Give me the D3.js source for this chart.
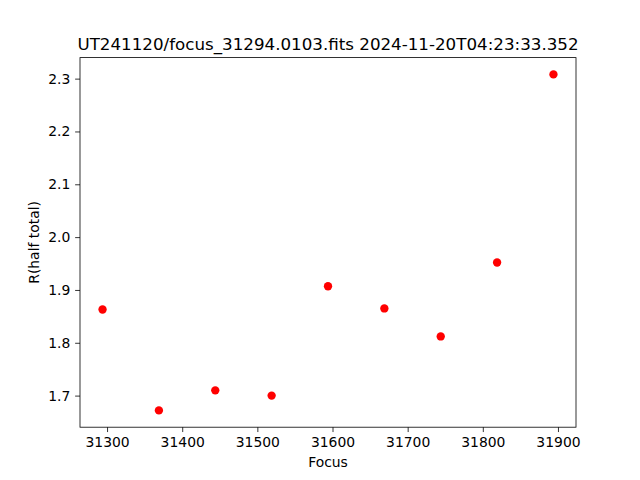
<!DOCTYPE html>
<html><head><meta charset="utf-8">
<script src="https://cdn.jsdelivr.net/npm/d3@7"></script>
<style>body{margin:0;background:#fff}svg{display:block}text{font-family:"DejaVu Sans",sans-serif;fill:#000}</style>
</head><body>
<script>
const focusValues = [31294, 31369, 31444, 31519, 31594, 31669, 31744, 31819, 31894];
const rHalfTotal = [1.863, 1.672, 1.710, 1.700, 1.907, 1.865, 1.812, 1.952, 2.308];
const xTicks = [31300, 31400, 31500, 31600, 31700, 31800, 31900];
const yTicks = [1.7, 1.8, 1.9, 2.0, 2.1, 2.2, 2.3];
const titleText = "UT241120/focus_31294.0103.fits 2024-11-20T04:23:33.352";
const xLabel = "Focus";
const yLabel = "R(half total)";

const W = 640, H = 480;
const L = 80, R = 576, T = 57.6, B = 427.2;
const svg = d3.select("body").append("svg").attr("width", W).attr("height", H);

function pad(ext){const d=(ext[1]-ext[0])*0.05;return [ext[0]-d, ext[1]+d];}
const x = d3.scaleLinear().domain(pad(d3.extent(focusValues))).range([L, R]);
const y = d3.scaleLinear().domain(pad(d3.extent(rHalfTotal))).range([B, T]);

const xAxis = d3.axisBottom(x).tickValues(xTicks).tickFormat(d3.format("d")).tickSize(4.86).tickPadding(4.86);
const yAxis = d3.axisLeft(y).tickValues(yTicks).tickFormat(d3.format(".1f")).tickSize(4.86).tickPadding(4.86);

const gx = svg.append("g").attr("transform", `translate(0,${B})`).call(xAxis);
const gy = svg.append("g").attr("transform", `translate(${L},0)`).call(yAxis);
[gx, gy].forEach(g => {
  g.select(".domain").remove();
  g.selectAll(".tick line").attr("stroke", "#000").attr("stroke-width", 0.8);
  g.selectAll(".tick text").attr("font-size", "13.9px").attr("font-family", "DejaVu Sans").attr("fill", "#000");
});

svg.append("g").selectAll("circle").data(focusValues).join("circle")
  .attr("cx", d => x(d)).attr("cy", (d, i) => y(rHalfTotal[i])).attr("r", 4.17).attr("fill", "#ff0000");

svg.append("rect").attr("x", L).attr("y", T).attr("width", R - L).attr("height", B - T)
  .attr("fill", "none").attr("stroke", "#000").attr("stroke-width", 0.8);

svg.append("text").attr("x", (L + R) / 2).attr("y", 50).attr("text-anchor", "middle")
  .attr("font-size", "16.7px").text(titleText);
svg.append("text").attr("x", (L + R) / 2).attr("y", 467).attr("text-anchor", "middle")
  .attr("font-size", "13.9px").text(xLabel);
svg.append("text").attr("transform", `translate(39,${(T + B) / 2}) rotate(-90)`).attr("text-anchor", "middle")
  .attr("font-size", "13.9px").text(yLabel);
</script>
</body></html>
